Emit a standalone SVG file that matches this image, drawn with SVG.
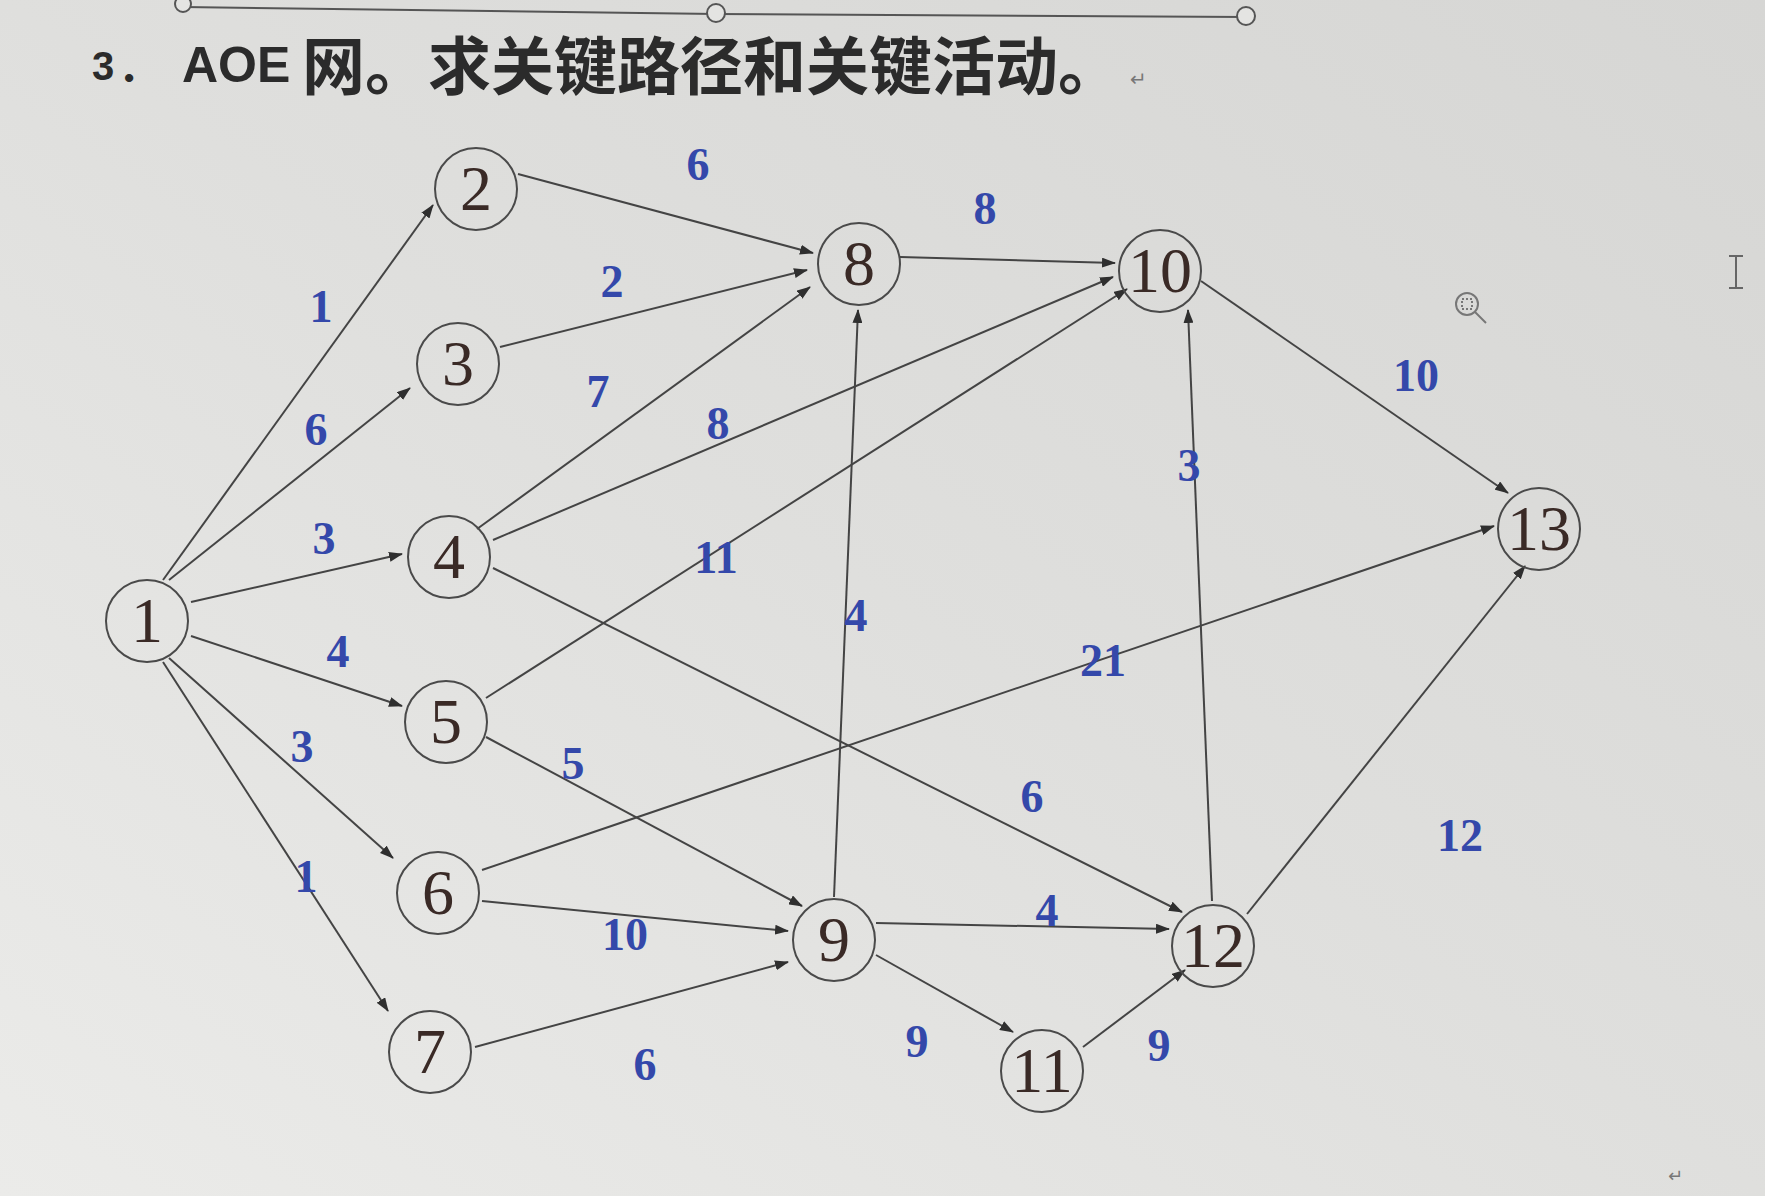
<svg xmlns="http://www.w3.org/2000/svg" width="1765" height="1196" viewBox="0 0 1765 1196">
<defs>
<linearGradient id="bg" x1="1" y1="0" x2="0" y2="1">
<stop offset="0" stop-color="#d6d6d4"/>
<stop offset="0.5" stop-color="#dfdfdd"/>
<stop offset="1" stop-color="#ebebe9"/>
</linearGradient>
<marker id="ah" markerUnits="userSpaceOnUse" markerWidth="14" markerHeight="10" refX="13" refY="5" orient="auto">
<path d="M0,0 L14,5 L0,10 z" fill="#2f2f2f"/>
</marker>
<style>
.e{stroke:#444;stroke-width:2;fill:none;marker-end:url(#ah)}
.n circle{fill:none;stroke:#4a4a4a;stroke-width:2}
.n text{font-family:"Liberation Serif",serif;font-size:64px;fill:#3a2a26;text-anchor:middle}
.l{font-family:"Liberation Serif",serif;font-weight:bold;font-size:46px;fill:#3448aa;text-anchor:middle}
</style>
</defs>
<rect width="1765" height="1196" fill="url(#bg)"/>

<!-- selection handles at top -->
<g id="handles" stroke="#555" stroke-width="2" fill="#e4e4e2">
<polyline points="183,7 716,14 1246,17" fill="none"/>
<circle cx="183" cy="4" r="8"/>
<circle cx="716" cy="13" r="9"/>
<circle cx="1246" cy="16" r="9"/>
</g>

<!-- title -->
<g id="title">
<text x="92" y="80" font-family="Liberation Sans,sans-serif" font-weight="bold" font-size="40" fill="#2b2b2b">3</text>
<text x="118" y="82" font-family="Noto Sans CJK SC,sans-serif" font-weight="bold" font-size="40" fill="#2b2b2b">．</text>
<text x="182" y="82" font-family="Liberation Sans,sans-serif" font-weight="bold" font-size="50" fill="#2b2b2b">AOE</text>
<text x="302" y="89" font-family="Noto Sans CJK SC,sans-serif" font-weight="bold" font-size="63" fill="#2b2b2b">网。求关键路径和关键活动。</text>
<text x="1130" y="86" font-family="DejaVu Sans,sans-serif" font-size="20" fill="#777">↵</text>
</g>

<!-- connectors -->
<g id="connectors">
<line class="e" x1="163" y1="580" x2="433" y2="205"/>
<line class="e" x1="169" y1="580" x2="410" y2="388"/>
<line class="e" x1="191" y1="602" x2="402" y2="554"/>
<line class="e" x1="191" y1="636" x2="402" y2="706"/>
<line class="e" x1="169" y1="658" x2="393" y2="858"/>
<line class="e" x1="163" y1="662" x2="388" y2="1011"/>
<line class="e" x1="518" y1="174" x2="813" y2="253"/>
<line class="e" x1="500" y1="347" x2="807" y2="270"/>
<line class="e" x1="477" y1="529" x2="810" y2="287"/>
<line class="e" x1="900" y1="257" x2="1115" y2="263"/>
<line class="e" x1="493" y1="540" x2="1113" y2="277"/>
<line class="e" x1="486" y1="698" x2="1127" y2="289"/>
<line class="e" x1="486" y1="737" x2="802" y2="906"/>
<line class="e" x1="482" y1="870" x2="1494" y2="526"/>
<line class="e" x1="482" y1="901" x2="788" y2="931"/>
<line class="e" x1="475" y1="1047" x2="788" y2="962"/>
<line class="e" x1="834" y1="897" x2="858" y2="310"/>
<line class="e" x1="876" y1="923" x2="1169" y2="929"/>
<line class="e" x1="876" y1="955" x2="1013" y2="1032"/>
<line class="e" x1="1083" y1="1047" x2="1185" y2="970"/>
<line class="e" x1="493" y1="568" x2="1182" y2="912"/>
<line class="e" x1="1212" y1="901" x2="1188" y2="310"/>
<line class="e" x1="1247" y1="914" x2="1525" y2="566"/>
<line class="e" x1="1201" y1="281" x2="1508" y2="493"/>
</g>

<!-- edge labels -->
<g id="labels">
<text class="l" x="698" y="180">6</text>
<text class="l" x="985" y="224">8</text>
<text class="l" x="321" y="322">1</text>
<text class="l" x="612" y="297">2</text>
<text class="l" x="598" y="407">7</text>
<text class="l" x="718" y="439">8</text>
<text class="l" x="316" y="445">6</text>
<text class="l" x="324" y="554">3</text>
<text class="l" x="716" y="573">11</text>
<text class="l" x="856" y="631">4</text>
<text class="l" x="1103" y="676">21</text>
<text class="l" x="338" y="667">4</text>
<text class="l" x="1189" y="481">3</text>
<text class="l" x="1416" y="391">10</text>
<text class="l" x="302" y="762">3</text>
<text class="l" x="573" y="779">5</text>
<text class="l" x="1032" y="812">6</text>
<text class="l" x="1460" y="851">12</text>
<text class="l" x="306" y="892">1</text>
<text class="l" x="625" y="950">10</text>
<text class="l" x="1047" y="926">4</text>
<text class="l" x="645" y="1080">6</text>
<text class="l" x="917" y="1057">9</text>
<text class="l" x="1159" y="1061">9</text>
</g>

<!-- nodes -->
<g id="n1" class="n"><circle cx="147" cy="621" r="41"/><text x="147" y="642">1</text></g>
<g id="n2" class="n"><circle cx="476" cy="189" r="41"/><text x="476" y="210">2</text></g>
<g id="n3" class="n"><circle cx="458" cy="364" r="41"/><text x="458" y="385">3</text></g>
<g id="n4" class="n"><circle cx="449" cy="557" r="41"/><text x="449" y="578">4</text></g>
<g id="n5" class="n"><circle cx="446" cy="722" r="41"/><text x="446" y="743">5</text></g>
<g id="n6" class="n"><circle cx="438" cy="893" r="41"/><text x="438" y="914">6</text></g>
<g id="n7" class="n"><circle cx="430" cy="1052" r="41"/><text x="430" y="1073">7</text></g>
<g id="n8" class="n"><circle cx="859" cy="264" r="41"/><text x="859" y="285">8</text></g>
<g id="n9" class="n"><circle cx="834" cy="940" r="41"/><text x="834" y="961">9</text></g>
<g id="n10" class="n"><circle cx="1160" cy="271" r="41"/><text x="1160" y="292">10</text></g>
<g id="n11" class="n"><circle cx="1042" cy="1071" r="41"/><text x="1042" y="1092">11</text></g>
<g id="n12" class="n"><circle cx="1213" cy="946" r="41"/><text x="1213" y="967">12</text></g>
<g id="n13" class="n"><circle cx="1539" cy="529" r="41"/><text x="1539" y="550">13</text></g>

<!-- screen artifacts -->
<g id="cursor" stroke="#666" stroke-width="2" fill="none">
<line x1="1736" y1="256" x2="1736" y2="288"/>
<line x1="1729" y1="256" x2="1743" y2="256"/>
<line x1="1729" y1="288" x2="1743" y2="288"/>
</g>
<g id="magnifier" stroke="#777" stroke-width="2" fill="none">
<circle cx="1467" cy="304" r="11"/>
<rect x="1462" y="299" width="10" height="10" stroke-dasharray="2,2"/>
<line x1="1475" y1="312" x2="1486" y2="323"/>
</g>
<text x="1668" y="1182" font-family="DejaVu Sans,sans-serif" font-size="18" fill="#777">↵</text>
</svg>
